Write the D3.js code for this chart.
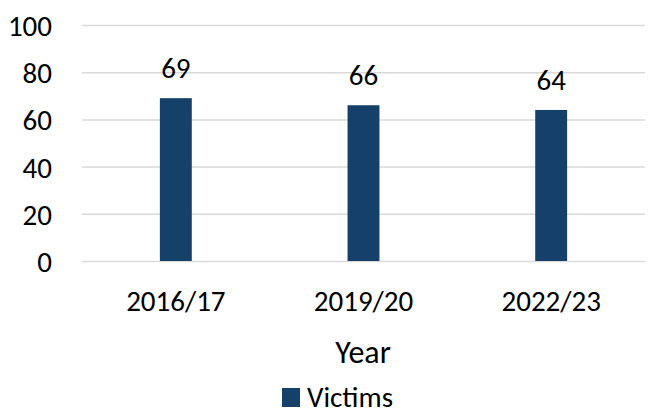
<!DOCTYPE html>
<html><head><meta charset="utf-8">
<script src="https://cdn.jsdelivr.net/npm/d3@7"></script>
<style>body{margin:0;background:#fff}svg{display:block}text{font-family:Carlito,Calibri,Lato,"Open Sans",sans-serif;fill:#000}</style>
</head><body>
<script>
const categories = ["2016/17","2019/20","2022/23"];
const victims = [69,66,64];
const yTicks = [0,20,40,60,80,100];
const seriesName = "Victims";
const xTitle = "Year";

const W=653,H=419;
const svg=d3.select("body").append("svg").attr("width",W).attr("height",H);
const x=d3.scaleBand().domain(categories).range([82,645]).paddingInner(0.83).paddingOuter(0.415);
const y=d3.scaleLinear().domain([0,100]).range([261,25]);
const color="#15406a";
const FF="Carlito,Calibri,Lato,sans-serif";

svg.append("g").selectAll("line").data(yTicks).join("line")
 .attr("x1",82).attr("x2",645).attr("y1",d=>y(d)+0.5).attr("y2",d=>y(d)+0.5)
 .attr("stroke","#d9d9d9").attr("stroke-width",1.5);

const ya=svg.append("g").attr("transform","translate(52,0)")
 .call(d3.axisLeft(y).tickValues(yTicks).tickSize(0).tickPadding(0));
ya.select(".domain").remove();
ya.selectAll("text").attr("font-size",29).attr("font-family",FF).attr("fill","#000").attr("dy","0.36em");

svg.append("g").selectAll("rect").data(victims).join("rect")
 .attr("x",(d,i)=>x(categories[i])).attr("width",x.bandwidth())
 .attr("y",d=>y(d)).attr("height",d=>y(0)-y(d)).attr("fill",color);

svg.append("g").selectAll("text").data(victims).join("text")
 .attr("x",(d,i)=>x(categories[i])+x.bandwidth()/2).attr("y",d=>y(d)-20)
 .attr("text-anchor","middle").attr("font-size",29).text(d=>d);

const xa=svg.append("g").attr("transform","translate(0,261)")
 .call(d3.axisBottom(x).tickSize(0).tickPadding(0));
xa.select(".domain").remove();
xa.selectAll("text").attr("font-size",29).attr("font-family",FF).attr("fill","#000").attr("y",50).attr("dy",0);

svg.append("text").attr("x",363).attr("y",363).attr("text-anchor","middle").attr("font-size",32).text(xTitle);

const lg=svg.append("g");
lg.append("rect").attr("x",282).attr("y",388).attr("width",18).attr("height",19).attr("fill",color);
lg.append("text").attr("x",307).attr("y",407).attr("font-size",29).text(seriesName);
</script>
</body></html>
